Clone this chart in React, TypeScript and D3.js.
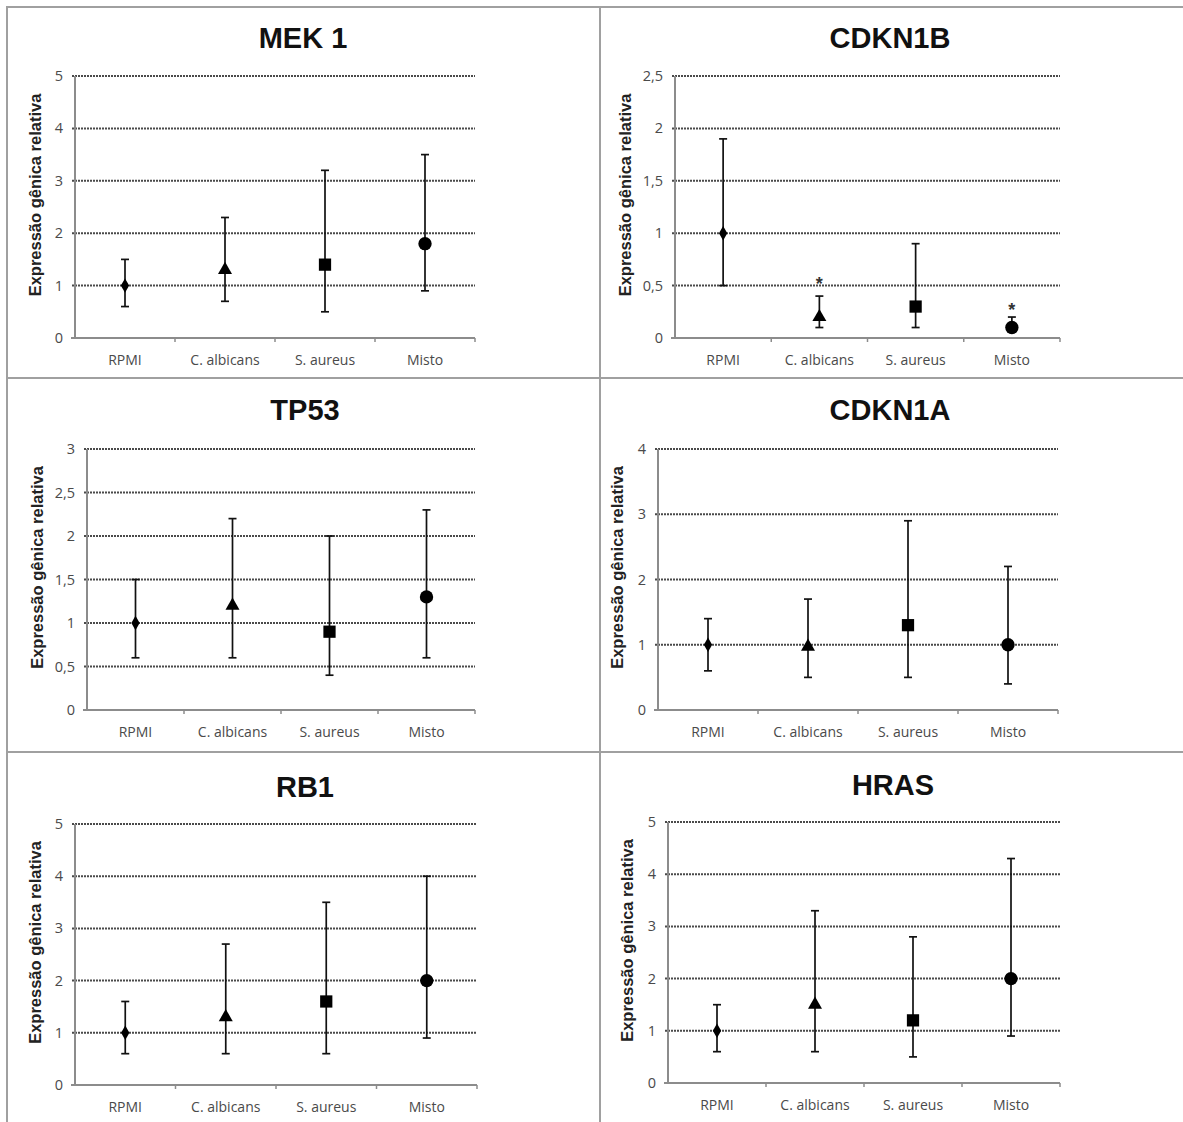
import React from 'react';
import * as d3 from 'd3';

// groups on the x axis
const categories = ['RPMI', 'C. albicans', 'S. aureus', 'Misto'];

// one entry per panel, row by row
const genes = ['MEK 1', 'CDKN1B', 'TP53', 'CDKN1A', 'RB1', 'HRAS'];
const yMax = [5, 2.5, 3, 4, 5, 5];
const yStep = [1, 0.5, 0.5, 1, 1, 1];

const means = [
  [1, 1.3, 1.4, 1.8],
  [1, 0.2, 0.3, 0.1],
  [1, 1.2, 0.9, 1.3],
  [1, 0.97, 1.3, 1.0],
  [1, 1.3, 1.6, 2.0],
  [1, 1.5, 1.2, 2.0],
];
const lower = [
  [0.6, 0.7, 0.5, 0.9],
  [0.5, 0.1, 0.1, 0.06],
  [0.6, 0.6, 0.4, 0.6],
  [0.6, 0.5, 0.5, 0.4],
  [0.6, 0.6, 0.6, 0.9],
  [0.6, 0.6, 0.5, 0.9],
];
const upper = [
  [1.5, 2.3, 3.2, 3.5],
  [1.9, 0.4, 0.9, 0.2],
  [1.5, 2.2, 2.0, 2.3],
  [1.4, 1.7, 2.9, 2.2],
  [1.6, 2.7, 3.5, 4.0],
  [1.5, 3.3, 2.8, 4.3],
];
// significance asterisks (value where the * sits), null = none
const stars = [
  [null, null, null, null],
  [null, 0.55, null, 0.3],
  [null, null, null, null],
  [null, null, null, null],
  [null, null, null, null],
  [null, null, null, null],
];

// page layout of each panel: frame, plot box and title position
const frames = [
  [7, 7, 593, 371],
  [600, 7, 590, 371],
  [7, 378, 593, 374],
  [600, 378, 590, 374],
  [7, 752, 593, 374],
  [600, 752, 590, 374],
];
const plots = [
  { x0: 75, x1: 475, top: 76, bottom: 338, tx: 303, ty: 38, lx: 35 },
  { x0: 675, x1: 1060, top: 76, bottom: 338, tx: 890, ty: 38, lx: 625 },
  { x0: 87, x1: 475, top: 449, bottom: 710, tx: 305, ty: 410, lx: 37 },
  { x0: 658, x1: 1058, top: 449, bottom: 710, tx: 890, ty: 410, lx: 617 },
  { x0: 75, x1: 477, top: 824, bottom: 1085, tx: 305, ty: 787, lx: 35 },
  { x0: 668, x1: 1060, top: 822, bottom: 1083, tx: 893, ty: 785, lx: 627 },
];

const markerShapes = [d3.symbolDiamond, d3.symbolTriangle, d3.symbolSquare, d3.symbolCircle];
const markerSizes = [60, 85, 150, 140];
const fmt = (v: number) => String(v).replace('.', ',');

function Panel({ i }: { i: number }) {
  const p = plots[i];
  const x = d3.scaleBand().domain(categories).range([p.x0, p.x1]);
  const y = d3.scaleLinear().domain([0, yMax[i]]).range([p.bottom, p.top]);
  const ticks = d3.range(0, yMax[i] + yStep[i] / 2, yStep[i]);
  const cx = (c: string) => (x(c) as number) + x.bandwidth() / 2;
  const [fx, fy, fw, fh] = frames[i];

  return (
    <g>
      <rect x={fx} y={fy} width={fw} height={fh} fill="#fff" stroke="#a0a0a0" strokeWidth={2} />
      <text x={p.tx} y={p.ty} textAnchor="middle" dy="0.35em" fontFamily="Liberation Sans, Arial, sans-serif"
        fontWeight="bold" fontSize={29} fill="#111">{genes[i]}</text>
      <text transform={`translate(${p.lx},${(p.top + p.bottom) / 2 - 12}) rotate(-90)`} textAnchor="middle"
        dy="0.35em" fontFamily="Liberation Sans, Arial, sans-serif" fontWeight="bold" fontSize={16.5} fill="#222">
        Expressão gênica relativa
      </text>
      {ticks.map(t => (
        <g key={t}>
          {t > 0 && (
            <line x1={p.x0 - 3} x2={p.x1} y1={y(t)} y2={y(t)} stroke="#4a4a4a" strokeWidth={2}
              strokeDasharray="2,1" />
          )}
          <text x={p.x0 - 12} y={y(t)} dy="0.35em" textAnchor="end" fontFamily="Open Sans, sans-serif"
            fontSize={14.5} fill="#4a4a4a">{fmt(t)}</text>
        </g>
      ))}
      <line x1={p.x0} x2={p.x0} y1={p.top} y2={p.bottom} stroke="#8c8c8c" strokeWidth={2} />
      <line x1={p.x0 - 4} x2={p.x1} y1={p.bottom} y2={p.bottom} stroke="#8c8c8c" strokeWidth={2} />
      {categories.map(c => (
        <line key={c} x1={(x(c) as number) + x.bandwidth()} x2={(x(c) as number) + x.bandwidth()}
          y1={p.bottom} y2={p.bottom + 4} stroke="#8c8c8c" strokeWidth={1.5} />
      ))}
      {categories.map(c => (
        <text key={c} x={cx(c)} y={p.bottom + 22} textAnchor="middle" dy="0.35em"
          fontFamily="Open Sans, sans-serif" fontSize={14} fill="#4a4a4a">{c}</text>
      ))}
      {categories.map((c, k) => {
        const m = means[i][k];
        const lo = lower[i][k];
        const hi = upper[i][k];
        const s = stars[i][k];
        const sym = d3.symbol(markerShapes[k], markerSizes[k])() as string;
        return (
          <g key={c}>
            <line x1={cx(c)} x2={cx(c)} y1={y(lo)} y2={y(hi)} stroke="#111" strokeWidth={1.7} />
            <line x1={cx(c) - 4} x2={cx(c) + 4} y1={y(lo)} y2={y(lo)} stroke="#111" strokeWidth={1.7} />
            <line x1={cx(c) - 4} x2={cx(c) + 4} y1={y(hi)} y2={y(hi)} stroke="#111" strokeWidth={1.7} />
            <path d={sym} transform={`translate(${cx(c)},${y(m)})`} fill="#000" />
            {s !== null && (
              <text x={cx(c)} y={y(s)} dy="0.55em" textAnchor="middle" fontFamily="Liberation Sans, Arial, sans-serif"
                fontWeight="bold" fontSize={18} fill="#333">*</text>
            )}
          </g>
        );
      })}
    </g>
  );
}

export default function App() {
  return (
    <svg width={1183} height={1122} style={{ position: 'absolute', left: 0, top: 0, background: '#fff' }}>
      <rect width={1183} height={1122} fill="#fff" />
      {genes.map((g, i) => (
        <Panel key={g} i={i} />
      ))}
    </svg>
  );
}
